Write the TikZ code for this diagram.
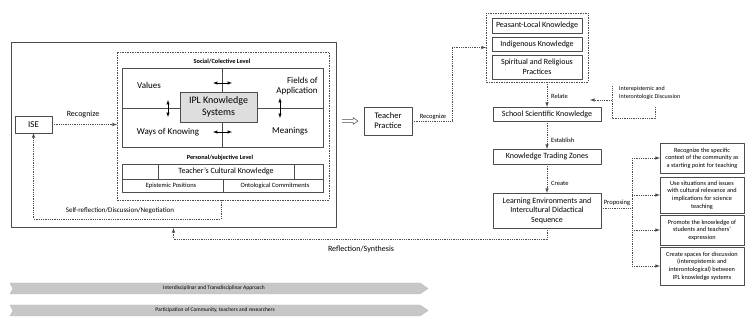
\documentclass[tikz,border=0pt]{standalone}
\usepackage{fontspec}
\setmainfont{Carlito}
\usepackage{tikz}
\usetikzlibrary{calc}
\usetikzlibrary{arrows}
\usetikzlibrary{shadows}

\begin{document}
\begin{tikzpicture}[x=1pt, y=-1pt, line join=round,
    box/.style={draw=black!70, fill=white, line width=0.7pt, inner sep=1pt, outer sep=0pt, align=center, font=\fontsize{8}{9.5}\selectfont},
    shade/.style={drop shadow={shadow xshift=0.7pt, shadow yshift=-0.9pt, fill=black!45, opacity=1}},
    dashbox/.style={draw=black!70, line width=0.6pt, dash pattern=on 1.5pt off 1pt, inner sep=0pt, outer sep=0pt},
    dotline/.style={draw=black!70, line width=0.6pt, dash pattern=on 1pt off 0.8pt},
    lbl/.style={inner sep=1pt, font=\fontsize{6.5}{7.5}\selectfont},
    word/.style={inner sep=0pt, align=center, font=\fontsize{9}{10}\selectfont},
    small/.style={box, shade, font=\fontsize{6.3}{7.6}\selectfont},
    tip/.style={-latex},
    twotip/.style={latex-latex, line width=0.5pt},
    band/.style={fill=black!22, draw=black!28, line width=0.4pt}]
  \useasboundingbox (0,0) rectangle (745,320);

  % left block
  \node[box, line width=1pt, minimum width=325pt, minimum height=185pt] (outer) at (173.5,135.5) {};
  \node[box, shade, font=\fontsize{9}{10}\selectfont, minimum width=37pt, minimum height=17pt] (ise) at (33.5,124.5) {ISE};
  \node[dashbox, minimum width=212pt, minimum height=148pt] (inner) at (223,126) {};
  \node[lbl, font=\bfseries\fontsize{6.3}{7}\selectfont] (social) at (222,61) {Social/Colective Level};
  \node[box, minimum width=201pt, minimum height=79pt] (collective) at (222.5,107.5) {};
  \draw[black!70, line width=0.6pt] (collective.north -| 222,0) -- (collective.south -| 222,0);
  \draw[black!70, line width=0.6pt] (collective.west |- 0,108) -- (collective.east |- 0,108);
  \node[box, fill=black!13, font=\fontsize{10}{11.5}\selectfont, minimum width=77pt, minimum height=30pt] (ipl) at (218.5,107) {IPL Knowledge\\Systems};
  \node[word] (values) at (149,85) {Values};
  \node[word] (ways) at (168,132) {Ways of Knowing};
  \node[word, align=right] (fields) at (297,86) {Fields of\\Application};
  \node[word] (meanings) at (290,131) {Meanings};
  \draw[twotip] (213,83) -- (232,83);
  \draw[twotip] (213,132) -- (232,132);
  \draw[twotip] (168,100) -- (168,117);
  \draw[twotip] (280,98) -- (280,118);

  \node[lbl, font=\bfseries\fontsize{6.3}{7}\selectfont] (personal) at (220,158) {Personal/subjective Level};
  \node[box, minimum width=201pt, minimum height=28pt] (subjective) at (222.5,178) {};
  \node[box, minimum width=136pt, minimum height=15pt] (tck) at (226,171.5) {Teacher's Cultural Knowledge};
  \draw[black!70, line width=0.6pt] (subjective.west |- 0,179) -- (subjective.east |- 0,179);
  \draw[black!70, line width=0.6pt] (223,179) -- (subjective.south -| 223,0);
  \node[lbl] (epistemic) at (171,185.5) {Epistemic Positions};
  \node[lbl] (ontological) at (275,185.5) {Ontological Commitments};

  \draw[dotline, tip] (ise.east) -- (ise.east -| inner.west);
  \node[lbl, font=\fontsize{8}{9}\selectfont] (recognize) at (83,114) {Recognize};
  \coordinate (selfcorner) at (221,219);
  \draw[dotline, tip] (inner.south -| selfcorner) -- (selfcorner) -| (ise.south);
  \node[lbl, font=\fontsize{7}{8}\selectfont] (selfref) at (120,211) {Self-reflection/Discussion/Negotiation};

  % teacher practice
  \node[box, shade, font=\fontsize{8.5}{10}\selectfont, minimum width=48pt, minimum height=28pt] (teacher) at (388,121) {Teacher\\Practice};
  \coordinate (hollow) at ($(outer.east |- teacher)+(6,0)$);
  \draw[black!70, line width=0.5pt] (hollow) ++(0,-1.5) -- ++(11,0) -- ++(0,-2) -- ++(5,3.5) -- ++(-5,3.5) -- ++(0,-2) -- ++(-11,0);

  % knowledge column
  \node[dashbox, minimum width=102pt, minimum height=69pt] (others) at (537,47.5) {};
  \node[box, shade, minimum width=90pt, minimum height=15pt] (peasant) at (537,25.5) {Peasant-Local Knowledge};
  \node[box, shade, minimum width=90pt, minimum height=14pt] (indigenous) at (537,44) {Indigenous Knowledge};
  \node[box, shade, minimum width=90pt, minimum height=24pt] (spiritual) at (537,67) {Spiritual and Religious\\Practices};
  \coordinate (turn) at (452,121);
  \draw[dotline, tip] (teacher.east) -- (turn) |- (others.west);
  \node[lbl] (recognize2) at (433,117) {Recognize};

  \node[box, shade, minimum width=108pt, minimum height=14pt] (school) at (547,114) {School Scientific Knowledge};
  \node[box, shade, minimum width=108pt, minimum height=15pt] (trading) at (547,156.5) {Knowledge Trading Zones};
  \node[box, shade, minimum width=108pt, minimum height=35pt] (learning) at (547,210.5) {Learning Environments and\\Intercultural Didactical\\Sequence};
  \draw[dotline, tip] (school.north |- others.south) -- (school.north);
  \draw[dotline, tip] (school.south) -- (trading.north);
  \draw[dotline, tip] (trading.south) -- (learning.north);
  \node[lbl, anchor=west] (relate) at (550,96) {Relate};
  \node[lbl, anchor=west] (establish) at (550,140) {Establish};
  \node[lbl, anchor=west] (create) at (550,183) {Create};

  \node[lbl, align=left, anchor=west, font=\fontsize{6}{8.5}\selectfont] (inter) at (618,93) {Interepistemic and\\Interontologic Discussion};
  \coordinate (bracket) at (612,118);
  \draw[dotline] (655,107) |- (bracket) -- (612,86);
  \draw[dotline, tip] (612,100) -- (590,100);

  % proposals
  \node[small, minimum width=84pt, minimum height=30pt] (prop1) at (702,158) {Recognize the specific\\context of the community as\\a starting point for teaching};
  \node[small, minimum width=84pt, minimum height=36pt] (prop2) at (702,195) {Use situations and issues\\with cultural relevance and\\implications for science\\teaching};
  \node[small, minimum width=84pt, minimum height=30pt] (prop3) at (702,230) {Promote the knowledge of\\students and teachers'\\expression};
  \node[small, minimum width=84pt, minimum height=38pt] (prop4) at (702,266) {Create spaces for discussion\\(interepistemic and\\interontological) between\\IPL knowledge systems};
  \coordinate (split) at (632,208);
  \draw[dotline] (learning.east |- split) -- (split);
  \draw[dotline] (split |- prop1) -- (split |- prop4);
  \foreach \p in {prop1,prop2,prop3,prop4}
    \draw[dotline, tip] (split |- \p) -- (\p.west);
  \node[lbl] (proposing) at (617,203) {Proposing};

  \coordinate (back) at (547,239);
  \draw[dotline, tip] (learning.south) -- (back) -| (outer.south);
  \node[lbl, font=\fontsize{8}{9}\selectfont] (synthesis) at (361,249) {Reflection/Synthesis};

  % approaches
  \draw[band] (10,283) -- (420,283) -- (428,288.5) -- (420,294) -- (10,294) -- (13,288.5) -- cycle;
  \node[lbl, font=\fontsize{5.5}{6}\selectfont] (approach) at (214,288.5) {Interdisciplinar and Transdisciplinar Approach};
  \draw[band] (10,305) -- (420,305) -- (428,310.5) -- (420,316) -- (10,316) -- (13,310.5) -- cycle;
  \node[lbl, font=\fontsize{5.5}{6}\selectfont] (participation) at (215,310.5) {Participation of Community, teachers and researchers};
\end{tikzpicture}
\end{document}
